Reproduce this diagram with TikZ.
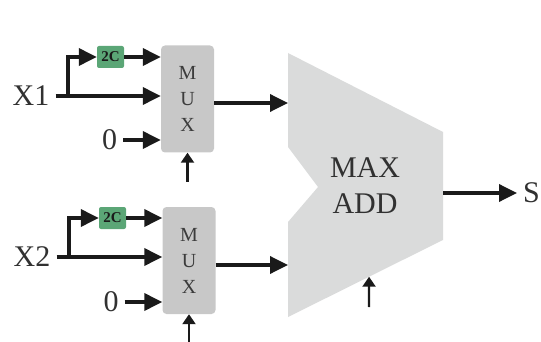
\documentclass[tikz,border=0pt]{standalone}
\usepackage{fontspec}
\setmainfont{Liberation Serif}
\usetikzlibrary{arrows.meta,calc}
\definecolor{ink}{HTML}{1A1A1A}
\definecolor{muxgray}{HTML}{C8C8C8}
\definecolor{alugray}{HTML}{DADBDB}
\definecolor{leaf}{HTML}{5BA676}
\tikzset{
  muxbox/.style={rectangle, rounded corners=4pt, fill=muxgray, minimum width=53pt, minimum height=107pt,
                 align=center, font=\fontsize{20}{26}\selectfont, text=ink!85},
  cbox/.style={rectangle, rounded corners=2pt, fill=leaf, minimum width=27pt, minimum height=22pt,
               inner sep=0pt, font=\fontsize{15}{15}\selectfont\bfseries, text=ink},
  lbl/.style={font=\fontsize{30}{36}\selectfont, text=ink!90, inner sep=6pt, align=center},
  wire/.style={-{Triangle[length=18pt,width=17pt]}, draw=ink, line width=3.5pt},
  ctrl/.style={-{Triangle[length=10pt,width=13pt]}, draw=ink, line width=2.2pt},
}
\begin{document}
\begin{tikzpicture}[x=1pt,y=-1pt]
\useasboundingbox (0,0) rectangle (541,342);

\coordinate (a1) at (288,53);  \coordinate (a2) at (443,132);
\coordinate (a3) at (443,240); \coordinate (a4) at (288,317);
\coordinate (a5) at (288,222); \coordinate (a6) at (318,187);
\coordinate (a7) at (288,147);
\fill[alugray] (a1) -- (a2) -- (a3) -- (a4) -- (a5) -- (a6) -- (a7) -- cycle;
\node[lbl] (alu) at (365,186) {MAX\\ADD};

\node[muxbox] (mux1) at (187.5,99)  {M\\U\\X};
\node[muxbox] (mux2) at (189,260.5) {M\\U\\X};
\node[cbox]   (tc1)  at (110.5,57)  {2C};
\node[cbox]   (tc2)  at (112.5,218) {2C};
\node[lbl]    (x1)   at (31,96)     {X1};
\node[lbl]    (x2)   at (32,257)    {X2};
\node[lbl]    (z1)   at (109.5,140) {0};
\node[lbl]    (z2)   at (111,302)   {0};
\node[lbl, anchor=west] (s) at (517,193) {S};

\coordinate (br1) at (68,96);  \coordinate (br2) at (69,257);
\coordinate (in1) at (288,103); \coordinate (in2) at (288,265);
\coordinate (out) at (443,193);
\coordinate (c1) at (187.5,182); \coordinate (c2) at (189,342);
\coordinate (c3) at (369,307);  \coordinate (c3t) at ($(a4)!0.523!(a3)$);

\draw[wire] (x1.east) -- (x1.east -| mux1.west); \draw[wire] (br1) |- (tc1.west);
\draw[wire] (tc1.east) -- (tc1.east -| mux1.west); \draw[wire] (z1.east) -- (z1.east -| mux1.west);
\draw[wire] (x2.east) -- (x2.east -| mux2.west); \draw[wire] (br2) |- (tc2.west);
\draw[wire] (tc2.east) -- (tc2.east -| mux2.west); \draw[wire] (z2.east) -- (z2.east -| mux2.west);

\draw[wire] (mux1.east |- in1) -- (in1);
\draw[wire] (mux2.east |- in2) -- (in2);
\draw[wire] (out) -- (s.west);

\draw[ctrl] (c1) -- (mux1.south);
\draw[ctrl] (c2) -- (mux2.south);
\draw[ctrl] (c3) -- (c3t);
\end{tikzpicture}
\end{document}
